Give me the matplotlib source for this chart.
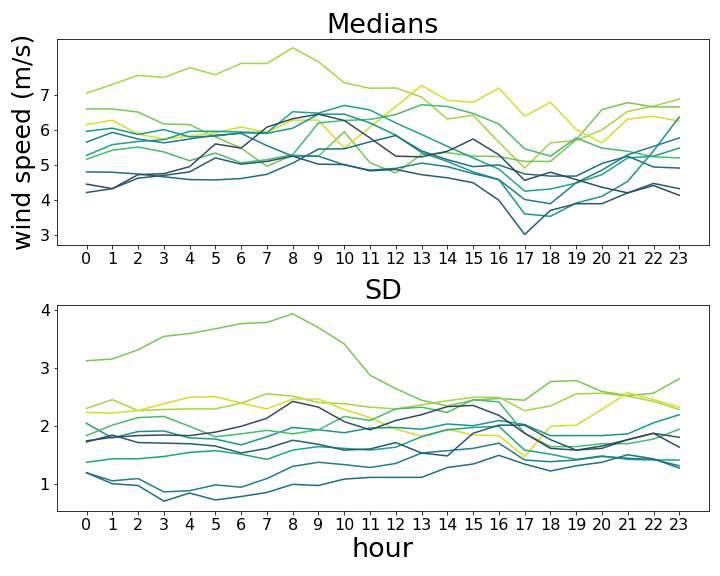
import matplotlib
matplotlib.use("Agg")
import matplotlib.pyplot as plt
import numpy as np

hours = list(range(24))

# line colours (yellow-green to dark slate)
colors = {
    "yellow": "#d5e01f",
    "lgreen": "#a5d63b",
    "green": "#78c74f",
    "g2": "#45bb6d",
    "tgreen": "#16a584",
    "teal": "#15968b",
    "blueteal": "#1b7f8a",
    "dteal": "#1b6e80",
    "dblue": "#225b72",
    "dark": "#2f4a5f",
}

# medians of wind speed (m/s) per hour
med_lgreen = [7.05, 7.30, 7.56, 7.50, 7.78, 7.58, 7.90, 7.90, 8.35, 7.95, 7.35, 7.19,
              7.20, 6.94, 6.31, 6.42, 5.65, 4.91, 5.63, 5.70, 6.00, 6.53, 6.68, 6.88]
med_green = [6.60, 6.60, 6.51, 6.17, 6.15, 5.80, 5.48, 4.96, 5.28, 5.25, 5.95, 5.06,
             4.77, 5.30, 5.35, 5.25, 5.24, 5.10, 5.10, 5.72, 6.58, 6.78, 6.66, 6.66]
med_yellow = [6.15, 6.28, 5.88, 5.74, 5.82, 5.92, 6.08, 5.93, 6.28, 6.28, 5.48, 6.08,
              6.67, 7.27, 6.85, 6.79, 7.20, 6.39, 6.79, 6.01, 5.63, 6.31, 6.39, 6.25]
med_g2 = [5.16, 5.42, 5.51, 5.37, 5.12, 5.34, 5.06, 5.15, 5.29, 6.20, 6.27, 6.30,
          6.44, 6.72, 6.67, 6.47, 6.17, 5.46, 5.25, 5.77, 5.48, 5.39, 5.23, 5.20]
med_tgreen = [5.27, 5.58, 5.67, 5.72, 5.96, 5.96, 5.94, 5.92, 6.52, 6.48, 6.70, 6.57,
              6.20, 5.87, 5.53, 5.20, 4.88, 4.25, 4.31, 4.48, 4.72, 5.20, 5.25, 5.48]
med_teal = [5.96, 6.05, 5.87, 6.01, 5.80, 5.82, 5.92, 5.90, 6.05, 6.45, 6.45, 6.20,
            5.85, 5.35, 5.10, 4.80, 4.58, 3.60, 3.53, 3.91, 4.10, 4.53, 5.40, 6.37]
med_blueteal = [5.65, 5.93, 5.74, 5.63, 5.74, 5.85, 5.90, 5.55, 5.25, 5.25, 5.00, 4.85,
                4.90, 5.05, 4.95, 4.75, 4.58, 4.01, 3.89, 4.49, 4.85, 5.29, 5.53, 5.77]
med_dteal = [4.80, 4.79, 4.74, 4.66, 4.58, 4.57, 4.61, 4.73, 5.05, 5.45, 5.46, 5.66,
             5.84, 5.40, 5.15, 4.95, 5.00, 4.74, 4.68, 4.68, 5.04, 5.25, 4.94, 4.91]
med_dblue = [4.21, 4.32, 4.62, 4.70, 4.80, 5.20, 5.02, 5.10, 5.25, 5.02, 5.01, 4.83,
             4.87, 4.72, 4.63, 4.49, 3.99, 3.01, 3.70, 3.89, 3.89, 4.20, 4.47, 4.32]
med_dark = [4.45, 4.32, 4.72, 4.75, 4.95, 5.60, 5.48, 6.08, 6.32, 6.45, 6.27, 5.77,
            5.25, 5.23, 5.39, 5.74, 5.29, 4.56, 4.79, 4.58, 4.36, 4.20, 4.41, 4.13]

# standard deviations per hour
sd_green = [3.13, 3.16, 3.32, 3.55, 3.60, 3.68, 3.77, 3.79, 3.94, 3.70, 3.42, 2.88,
            2.65, 2.45, 2.35, 2.45, 2.48, 2.45, 2.77, 2.79, 2.60, 2.53, 2.57, 2.82]
sd_lgreen = [2.31, 2.46, 2.27, 2.29, 2.30, 2.30, 2.40, 2.56, 2.52, 2.41, 2.39, 2.33,
             2.30, 2.37, 2.44, 2.50, 2.50, 2.27, 2.35, 2.56, 2.57, 2.52, 2.43, 2.29]
sd_yellow = [2.24, 2.23, 2.27, 2.39, 2.50, 2.51, 2.40, 2.30, 2.47, 2.47, 2.29, 2.15,
             1.95, 1.83, 1.95, 1.85, 1.84, 1.48, 2.00, 2.02, 2.29, 2.58, 2.46, 2.33]
sd_teal = [2.05, 1.80, 1.91, 1.92, 1.80, 1.78, 1.68, 1.82, 1.98, 1.94, 1.89, 1.97,
           1.98, 1.95, 2.04, 2.01, 2.10, 2.03, 1.84, 1.84, 1.84, 1.87, 2.06, 2.20]
sd_g2 = [1.84, 2.02, 2.15, 2.17, 2.00, 1.82, 1.87, 1.93, 1.87, 1.94, 2.17, 2.10,
         2.30, 2.33, 2.24, 2.46, 2.42, 1.88, 1.65, 1.65, 1.70, 1.70, 1.78, 1.95]
sd_dark = [1.75, 1.81, 1.84, 1.85, 1.84, 1.90, 2.00, 2.14, 2.43, 2.33, 2.08, 1.94,
           2.10, 2.20, 2.34, 2.36, 2.19, 1.88, 1.62, 1.59, 1.66, 1.77, 1.88, 1.64]
sd_dblue = [1.73, 1.85, 1.72, 1.71, 1.70, 1.66, 1.54, 1.62, 1.76, 1.69, 1.59, 1.61,
            1.72, 1.54, 1.49, 1.88, 2.02, 2.02, 1.77, 1.59, 1.62, 1.77, 1.88, 1.81]
sd_tgreen = [1.38, 1.44, 1.44, 1.48, 1.55, 1.58, 1.52, 1.43, 1.59, 1.65, 1.62, 1.59,
             1.64, 1.82, 1.94, 1.98, 2.00, 1.59, 1.52, 1.43, 1.49, 1.43, 1.42, 1.42]
sd_blueteal = [1.20, 1.06, 1.10, 0.87, 0.89, 0.99, 0.95, 1.10, 1.31, 1.38, 1.34, 1.29,
               1.36, 1.54, 1.58, 1.62, 1.71, 1.42, 1.39, 1.42, 1.48, 1.45, 1.43, 1.32]
sd_dteal = [1.20, 1.01, 0.98, 0.71, 0.85, 0.73, 0.79, 0.86, 1.00, 0.98, 1.09, 1.12,
            1.12, 1.12, 1.29, 1.35, 1.50, 1.35, 1.23, 1.32, 1.38, 1.51, 1.44, 1.28]

medians = [("lgreen", med_lgreen), ("green", med_green), ("yellow", med_yellow),
           ("g2", med_g2), ("tgreen", med_tgreen), ("teal", med_teal),
           ("blueteal", med_blueteal), ("dteal", med_dteal), ("dblue", med_dblue),
           ("dark", med_dark)]
sds = [("green", sd_green), ("lgreen", sd_lgreen), ("yellow", sd_yellow),
       ("teal", sd_teal), ("g2", sd_g2), ("tgreen", sd_tgreen),
       ("blueteal", sd_blueteal), ("dteal", sd_dteal), ("dblue", sd_dblue),
       ("dark", sd_dark)]

fig = plt.figure(figsize=(10, 8), dpi=72)
ax1 = fig.add_axes([0.079, 0.5747, 0.9056, 0.3576])
ax2 = fig.add_axes([0.079, 0.1128, 0.9056, 0.3576])

for name, vals in medians:
    ax1.plot(hours, vals, color=colors[name], lw=1.5)
for name, vals in sds:
    ax2.plot(hours, vals, color=colors[name], lw=1.5)

ax1.set_title("Medians", fontsize=27)
ax1.set_ylabel("wind speed (m/s)", fontsize=25)
ax1.set_yticks([3, 4, 5, 6, 7])
ax1.set_ylim(2.71, 8.6)

ax2.set_title("SD", fontsize=27)
ax2.set_xlabel("hour", fontsize=27)
ax2.set_yticks([1, 2, 3, 4])
ax2.set_ylim(0.54, 4.09)

for ax in (ax1, ax2):
    ax.set_xticks(hours)
    ax.set_xlim(-1.15, 24.15)
    ax.tick_params(labelsize=16)

fig.savefig("out.png")
